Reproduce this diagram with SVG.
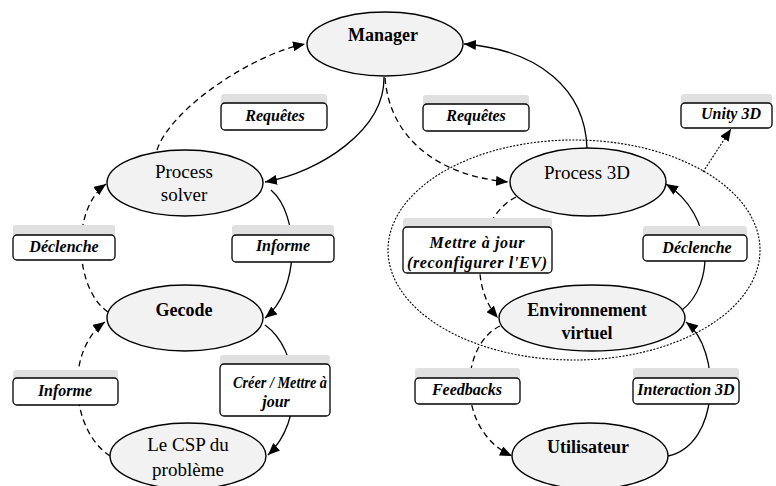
<svg xmlns="http://www.w3.org/2000/svg" width="776" height="486" viewBox="0 0 776 486">
<defs>
<style>
.node{fill:#f2f2f2;stroke:#000;stroke-width:1.4}
.nt{font-family:"Liberation Serif","Times New Roman",serif;font-size:19px;text-anchor:middle;fill:#000}
.ntb{font-family:"Liberation Serif","Times New Roman",serif;font-size:18px;font-weight:bold;text-anchor:middle;fill:#000}
.lt{font-family:"Liberation Serif","Times New Roman",serif;font-size:16px;font-weight:bold;font-style:italic;text-anchor:middle;fill:#000}
.tab{fill:#e0e0e0;stroke:none}
.box{fill:#fff;stroke:#000;stroke-width:1.3}
.c{fill:none;stroke:#000;stroke-width:1.3}
.d{stroke-dasharray:6,4}
.dot{stroke-dasharray:2,1.5;stroke-width:1.1}
</style>
<marker id="ah" viewBox="0 0 12 10" refX="12" refY="5" markerWidth="12" markerHeight="10" markerUnits="userSpaceOnUse" orient="auto">
<path d="M0,0 L12,5 L0,10 z" fill="#000"/>
</marker>
</defs>
<rect width="776" height="486" fill="#fff"/>
<g id="group-3d">
<ellipse cx="574" cy="250" rx="186" ry="110" class="c dot"/>
</g>
<g id="connectors">
<path class="c d" d="M157,150 C170,110 250,55 305,44" marker-end="url(#ah)"/>
<path class="c" d="M384,77 C385,130 320,172 265,182" marker-end="url(#ah)"/>
<path class="c d" d="M385,78 C390,140 440,176 508,182" marker-end="url(#ah)"/>
<path class="c" d="M587,148 C585,90 540,50 464,44" marker-end="url(#ah)"/>
<path class="c dot" d="M703,172 L731,129" marker-end="url(#ah)"/>
<path class="c d" d="M108,312 C75,290 70,210 106,184" marker-end="url(#ah)"/>
<path class="c d" d="M110,456 C70,430 65,350 105,322" marker-end="url(#ah)"/>
<path class="c" d="M271,190 C300,215 300,290 265,318" marker-end="url(#ah)"/>
<path class="c" d="M265,325 C300,350 305,420 268,455" marker-end="url(#ah)"/>
<path class="c d" d="M516,197 C480,215 465,280 498,318" marker-end="url(#ah)"/>
<path class="c d" d="M500,326 C460,345 455,430 512,456" marker-end="url(#ah)"/>
<path class="c" d="M668,456 C720,445 722,350 686,322" marker-end="url(#ah)"/>
<path class="c" d="M682,310 C715,285 715,215 666,184" marker-end="url(#ah)"/>
</g>
<g id="manager"><ellipse class="node" cx="385" cy="44" rx="78" ry="32"/><text class="ntb" x="383" y="41">Manager</text></g>
<g id="process-solver"><ellipse class="node" cx="185" cy="183" rx="78" ry="33"/><text class="nt" x="184" y="178">Process</text><text class="nt" x="184" y="201">solver</text></g>
<g id="gecode"><ellipse class="node" cx="185" cy="318" rx="78" ry="33"/><text class="ntb" x="184" y="316">Gecode</text></g>
<g id="csp"><ellipse class="node" cx="188" cy="456" rx="78" ry="33"/><text class="nt" x="188" y="451">Le CSP du</text><text class="nt" x="188" y="476">problème</text></g>
<g id="process-3d"><ellipse class="node" cx="588" cy="182" rx="78" ry="34"/><text class="nt" x="587" y="179">Process 3D</text></g>
<g id="env-virtuel"><ellipse class="node" cx="592" cy="318" rx="93" ry="33"/><text class="ntb" x="587" y="316">Environnement</text><text class="ntb" x="587" y="339">virtuel</text></g>
<g id="utilisateur"><ellipse class="node" cx="590" cy="456" rx="78" ry="33"/><text class="ntb" x="588" y="453">Utilisateur</text></g>
<g id="lbl-requetes-1"><rect class="tab" x="221" y="94" width="106" height="30" rx="3"/><rect class="box" x="221" y="103" width="106" height="27" rx="4"/><text class="lt" x="275" y="121">Requêtes</text></g>
<g id="lbl-requetes-2"><rect class="tab" x="423" y="95" width="106" height="30" rx="3"/><rect class="box" x="423" y="104" width="106" height="27" rx="4"/><text class="lt" x="476" y="121">Requêtes</text></g>
<g id="lbl-declenche-1"><rect class="tab" x="13" y="225" width="102" height="30" rx="3"/><rect class="box" x="13" y="235" width="102" height="25" rx="4"/><text class="lt" x="64" y="252">Déclenche</text></g>
<g id="lbl-informe-1"><rect class="tab" x="232" y="225" width="102" height="30" rx="3"/><rect class="box" x="232" y="235" width="102" height="27" rx="4"/><text class="lt" x="283" y="251">Informe</text></g>
<g id="lbl-informe-2"><rect class="tab" x="13" y="370" width="105" height="30" rx="3"/><rect class="box" x="13" y="378" width="105" height="27" rx="4"/><text class="lt" x="65" y="396">Informe</text></g>
<g id="lbl-creer"><rect class="tab" x="220" y="355" width="110" height="30" rx="3"/><rect class="box" x="220" y="364" width="110" height="52" rx="4"/><text class="lt" x="280" y="388" textLength="94" lengthAdjust="spacingAndGlyphs">Créer / Mettre à</text><text class="lt" x="276" y="407">jour</text></g>
<g id="lbl-mettre"><rect class="tab" x="403" y="218" width="149" height="30" rx="3"/><rect class="box" x="403" y="227" width="149" height="46" rx="4"/><text class="lt" x="477" y="248" textLength="95" lengthAdjust="spacing">Mettre à jour</text><text class="lt" x="477" y="268" textLength="140" lengthAdjust="spacing">(reconfigurer l'EV)</text></g>
<g id="lbl-declenche-2"><rect class="tab" x="643" y="226" width="104" height="30" rx="3"/><rect class="box" x="643" y="235" width="104" height="26" rx="4"/><text class="lt" x="697" y="253">Déclenche</text></g>
<g id="lbl-unity"><rect class="tab" x="681" y="94" width="91" height="30" rx="3"/><rect class="box" x="681" y="103" width="91" height="25" rx="4"/><text class="lt" x="731" y="119">Unity 3D</text></g>
<g id="lbl-feedbacks"><rect class="tab" x="415" y="368" width="105" height="30" rx="3"/><rect class="box" x="415" y="378" width="105" height="26" rx="4"/><text class="lt" x="467" y="395">Feedbacks</text></g>
<g id="lbl-interaction"><rect class="tab" x="633" y="368" width="106" height="30" rx="3"/><rect class="box" x="633" y="378" width="106" height="26" rx="4"/><text class="lt" x="686" y="395">Interaction 3D</text></g>
</svg>
